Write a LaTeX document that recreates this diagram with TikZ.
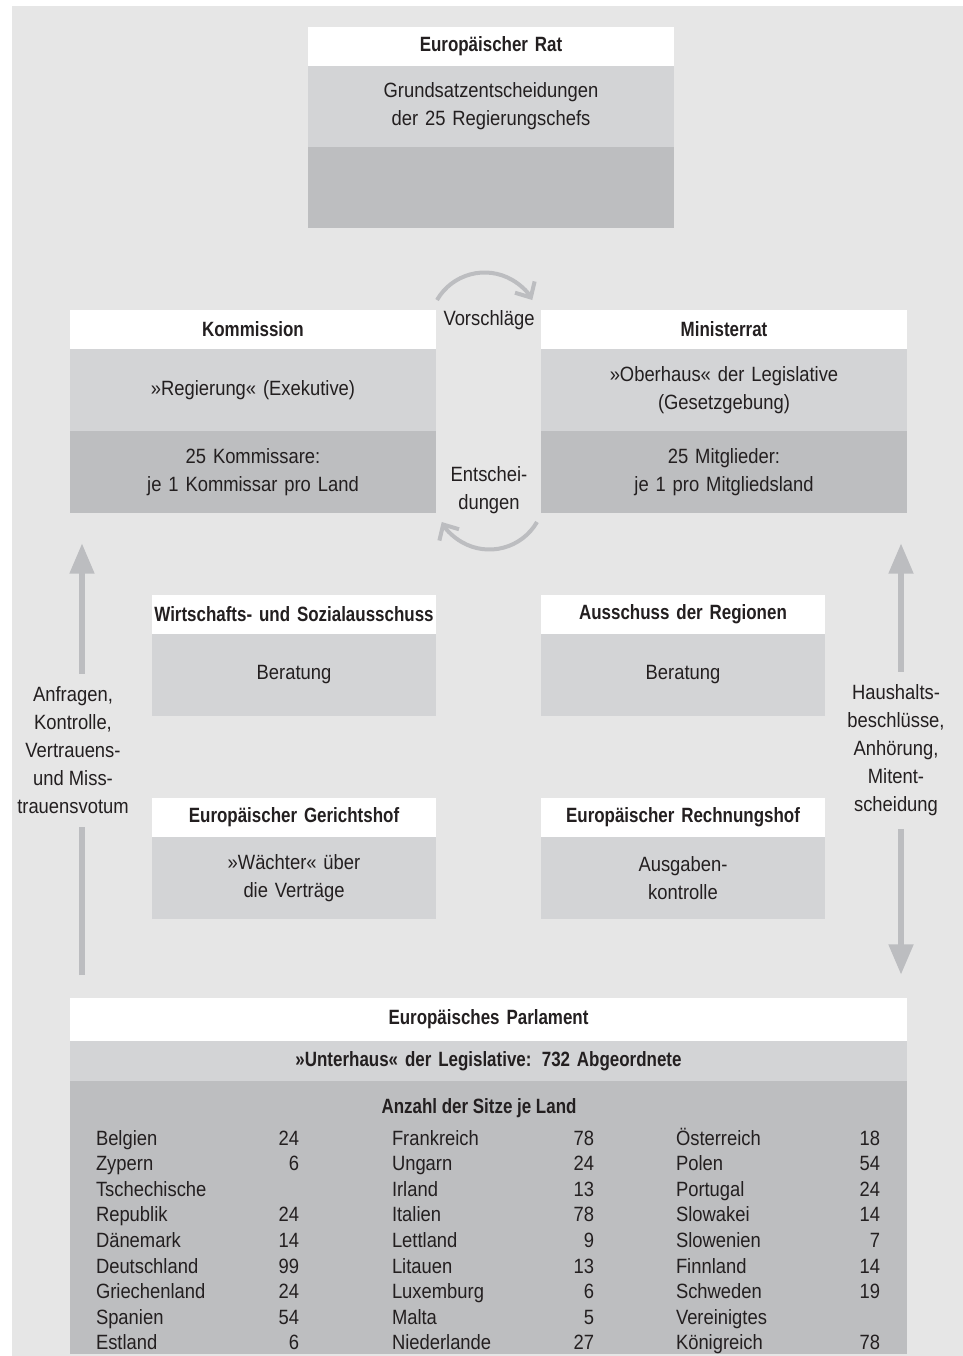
\documentclass[tikz,border=0pt]{standalone}
\usepackage{fontspec}
\setmainfont{Liberation Sans}[FakeStretch=0.89, BoldFeatures={FakeStretch=0.82}]
\usepackage{tikz}
\usetikzlibrary{positioning,arrows.meta}

\definecolor{pagegrey}{HTML}{E6E6E6}
\definecolor{lightrow}{HTML}{D3D4D6}
\definecolor{darkrow}{HTML}{BDBEC0}
\definecolor{arrowgrey}{HTML}{BCBDC0}
\definecolor{ink}{HTML}{231F20}

\tikzset{
  box/.style={inner sep=0pt, outer sep=0pt, align=center, text=ink},
  hdr/.style={box, fill=white, font=\bfseries, minimum height=29.25pt},
  midrow/.style={box, fill=lightrow, minimum height=61.5pt},
  lowrow/.style={box, fill=darkrow, minimum height=61.5pt},
  wide/.style={text width=274.5pt},
  narrow/.style={text width=213pt},
  full/.style={text width=627.75pt},
  sidearrow/.style={draw=arrowgrey, line width=5pt},
  sidetip/.tip={Triangle[width=17.5pt,length=23pt]},
  turnarrow/.style={draw=arrowgrey, line width=3pt, -{Straight Barb[length=9pt,width=17pt]}},
  sidelabel/.style={box, fill=pagegrey, inner ysep=9.5pt, inner xsep=2pt},
  seats/.style={inner sep=0pt, outer sep=0pt, text=ink, anchor=base west, font=\fontsize{15.5}{19.2}\selectfont}
}

\begin{document}
\begin{tikzpicture}[x=0.75pt,y=0.75pt,yscale=-1,xscale=1]
\fontsize{15.5}{21}\selectfont
\useasboundingbox (0,0) rectangle (963,1356);
% Background
\fill[pagegrey] (12,6) rectangle (963,1356);

% Europaeischer Rat
\node[hdr, wide, anchor=north west] (rat) at (308,27) {Europäischer Rat};
\node[midrow, wide, minimum height=60.75pt, below=0pt of rat] (ratMid) {Grundsatzentscheidungen\\der 25 Regierungschefs};
\node[lowrow, wide, minimum height=60.75pt, below=0pt of ratMid] (ratLow) {};

% Kommission
\node[hdr, wide, anchor=north west] (komm) at (70,310) {Kommission};
\node[midrow, wide, below=0pt of komm] (kommMid) {»Regierung« (Exekutive)};
\node[lowrow, wide, below=0pt of kommMid] (kommLow) {25 Kommissare:\\je 1 Kommissar pro Land};

% Ministerrat
\node[hdr, wide, anchor=north west] (min) at (541,310) {Ministerrat};
\node[midrow, wide, below=0pt of min] (minMid) {»Oberhaus« der Legislative\\(Gesetzgebung)};
\node[lowrow, wide, below=0pt of minMid] (minLow) {25 Mitglieder:\\je 1 pro Mitgliedsland};

% Vorschlaege / Entscheidungen
\node[box] (vorschl) at (489,320) {Vorschläge};
\node[box] (entsch) at (489,490) {Entschei-\\dungen};
\coordinate (vorStart) at ([xshift=0.75pt,yshift=-7.5pt]komm.north east);
\coordinate (entStart) at ([xshift=-3pt,yshift=6.75pt]minLow.south west);
\draw[turnarrow] (vorStart) arc[start angle=-150, end angle=-30, radius=55];
\draw[turnarrow] (entStart) arc[start angle=30, end angle=150, radius=55];

% Ausschuesse
\node[hdr, narrow, anchor=north west] (wsa) at (152,595) {Wirtschafts- und Sozialausschuss};
\node[midrow, narrow, below=0pt of wsa] (wsaMid) {Beratung};
\node[hdr, narrow, anchor=north west] (adr) at (541,595) {Ausschuss der Regionen};
\node[midrow, narrow, below=0pt of adr] (adrMid) {Beratung};

% Gerichtshof, Rechnungshof
\node[hdr, narrow, anchor=north west] (egh) at (152,798) {Europäischer Gerichtshof};
\node[midrow, narrow, below=0pt of egh] (eghMid) {»Wächter« über\\die Verträge};
\node[hdr, narrow, anchor=north west] (erh) at (541,798) {Europäischer Rechnungshof};
\node[midrow, narrow, below=0pt of erh] (erhMid) {Ausgaben-\\kontrolle};

% Europaeisches Parlament
\node[hdr, full, minimum height=32.25pt, anchor=north west] (parl) at (70,998) {Europäisches Parlament};
\node[midrow, full, minimum height=30pt, font=\bfseries, below=0pt of parl] (parlMid) {»Unterhaus« der Legislative: 732 Abgeordnete};
\node[lowrow, full, minimum height=204.75pt, below=0pt of parlMid] (parlLow) {};
\node[box, font=\bfseries, anchor=base] (sitze) at (479,1113) {Anzahl der Sitze je Land};
\node[seats] (seatsA) at (96,1145) {\begin{tabular*}{152.25pt}[t]{@{}l@{\extracolsep{\fill}}r@{}}
Belgien & 24\\ Zypern & 6\\ Tschechische & \\ Republik & 24\\ Dänemark & 14\\
Deutschland & 99\\ Griechenland & 24\\ Spanien & 54\\ Estland & 6
\end{tabular*}};
\node[seats] (seatsB) at (392,1145) {\begin{tabular*}{151.5pt}[t]{@{}l@{\extracolsep{\fill}}r@{}}
Frankreich & 78\\ Ungarn & 24\\ Irland & 13\\ Italien & 78\\ Lettland & 9\\
Litauen & 13\\ Luxemburg & 6\\ Malta & 5\\ Niederlande & 27
\end{tabular*}};
\node[seats] (seatsC) at (676,1145) {\begin{tabular*}{153pt}[t]{@{}l@{\extracolsep{\fill}}r@{}}
Österreich & 18\\ Polen & 54\\ Portugal & 24\\ Slowakei & 14\\ Slowenien & 7\\
Finnland & 14\\ Schweden & 19\\ Vereinigtes & \\ Königreich & 78
\end{tabular*}};

% Side arrows
\coordinate (lbot) at (82,975);
\coordinate (ltop) at (82,543);
\coordinate (rtop) at (901,543);
\coordinate (rbot) at (901,975);
\draw[sidearrow, -{sidetip}] (lbot) -- node[sidelabel, pos=0.52, xshift=-6.75pt] (lblL) {Anfragen,\\Kontrolle,\\Vertrauens-\\und Miss-\\trauensvotum} (ltop);
\draw[sidearrow, {sidetip}-{sidetip}] (rtop) -- node[sidelabel, pos=0.48, xshift=-3.75pt] (lblR) {Haushalts-\\beschlüsse,\\Anhörung,\\Mitent-\\scheidung} (rbot);
\end{tikzpicture}
\end{document}
